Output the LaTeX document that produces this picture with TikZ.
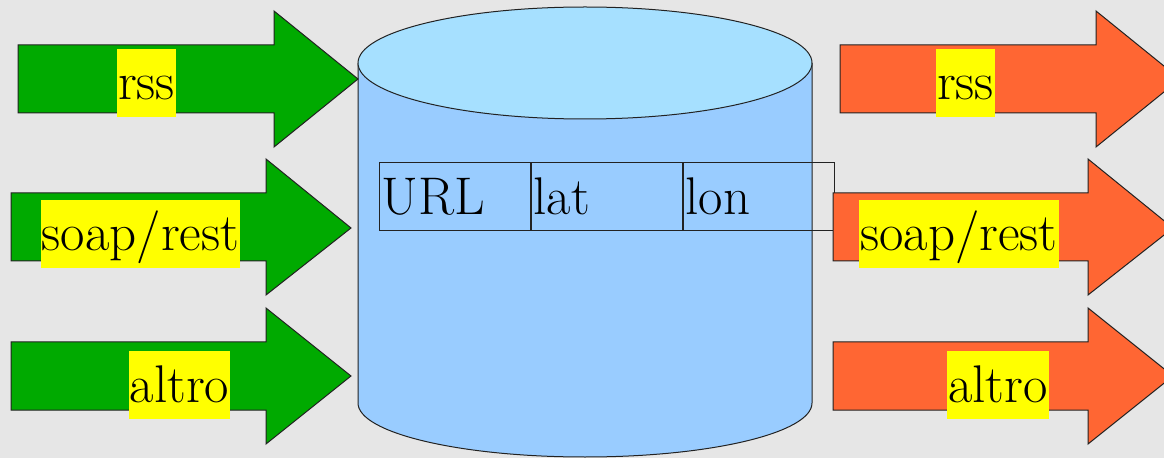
\documentclass[tikz,border=0pt]{standalone}
\usepackage{fontspec}
\definecolor{bggray}{HTML}{E6E6E6}
\definecolor{arrgreen}{HTML}{00AA00}
\definecolor{arrorange}{HTML}{FF6633}
\definecolor{hlyellow}{HTML}{FFFF00}
\definecolor{cylside}{HTML}{99CCFF}
\definecolor{cyltop}{HTML}{A6E0FF}
\definecolor{edge}{HTML}{222222}
\tikzset{
  greenarrow/.style={fill=arrgreen, draw=edge, line width=1pt, line join=miter},
  orangearrow/.style={fill=arrorange, draw=edge, line width=1pt, line join=miter},
  hl/.style={fill=hlyellow, inner xsep=1pt, inner ysep=0pt, text height=51pt, text depth=17pt,
    anchor=base, font=\rmfamily\fontsize{53pt}{63pt}\selectfont},
  cell/.style={draw=edge, line width=1pt, anchor=north west, inner xsep=2pt, inner ysep=0pt,
    text width=147pt, align=left, text height=52pt, text depth=16pt,
    font=\rmfamily\fontsize{53pt}{63pt}\selectfont},
  cyl/.style={draw=edge, line width=1pt}
}
\begin{document}
\begin{tikzpicture}[x=1pt,y=1pt]
\useasboundingbox (0,0) rectangle (1164,458);
\fill[bggray] (0,0) rectangle (1164,458);
\clip (0,0) rectangle (1164,458);
% cylinder
\fill[cylside] (358,395) -- (358,55) arc[start angle=180, end angle=360, x radius=227, y radius=54] -- (812,395) -- cycle;
\draw[cyl] (358,395) -- (358,55) arc[start angle=180, end angle=360, x radius=227, y radius=54] -- (812,395);
\draw[cyl, fill=cyltop] (585,395) ellipse[x radius=227, y radius=56];
% table
\node[cell] (url) at (379,296) {URL};
\node[cell] (lat) at (url.north east) {lat};
\node[cell] (lon) at (lat.north east) {lon};
% left green arrows
\draw[greenarrow] (18,413) -- (274,413) -- (274,447) -- (358,379) -- (274,311) -- (274,345) -- (18,345) -- cycle;
\draw[greenarrow] (11,265) -- (266,265) -- (266,299) -- (351,230) -- (266,163) -- (266,197) -- (11,197) -- cycle;
\draw[greenarrow] (11,116) -- (266,116) -- (266,150) -- (351,82) -- (266,14) -- (266,48) -- (11,48) -- cycle;
% right orange arrows
\draw[orangearrow] (840,413) -- (1096,413) -- (1096,447) -- (1180,379) -- (1096,311) -- (1096,345) -- (840,345) -- cycle;
\draw[orangearrow] (833,265) -- (1088,265) -- (1088,299) -- (1173,230) -- (1088,163) -- (1088,197) -- (833,197) -- cycle;
\draw[orangearrow] (833,116) -- (1088,116) -- (1088,150) -- (1173,82) -- (1088,14) -- (1088,48) -- (833,48) -- cycle;
% labels (anchored at centre of the reference highlight)
\node[hl] (lrss) at (146.5,358) {rss};
\node[hl] (lsoap) at (140.5,207) {soap/rest};
\node[hl] (laltro) at (179.5,56) {altro};
\node[hl] (rrss) at (965.5,358) {rss};
\node[hl] (rsoap) at (959,207) {soap/rest};
\node[hl] (raltro) at (998,56) {altro};
\end{tikzpicture}
\end{document}
